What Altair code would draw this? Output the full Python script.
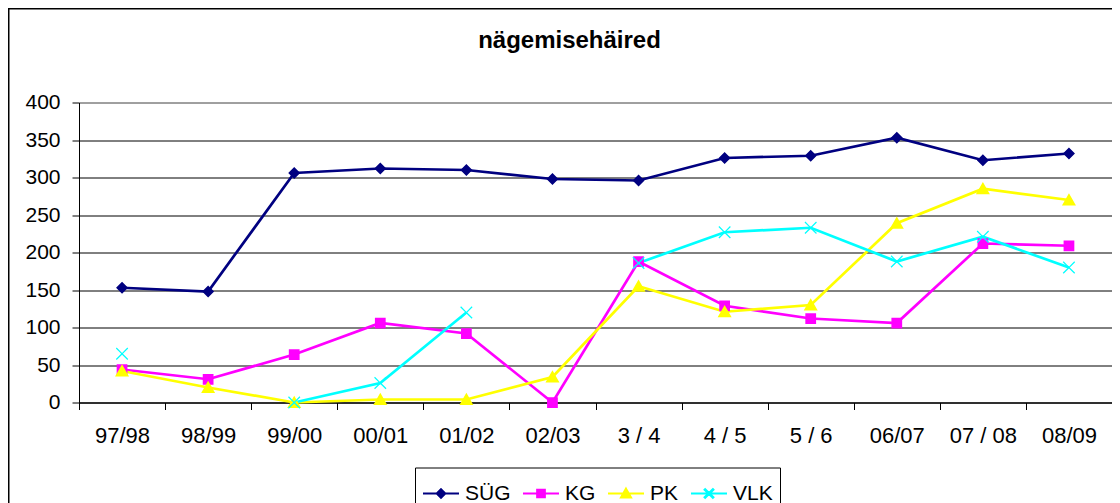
import altair as alt
import pandas as pd

# ---- data ----
categories = ["97/98", "98/99", "99/00", "00/01", "01/02", "02/03",
              "3 / 4", "4 / 5", "5 / 6", "06/07", "07 / 08", "08/09"]
series_names = ["SÜG", "KG", "PK", "VLK"]
sug = [153, 148, 306, 312, 310, 298, 296, 326, 329, 353, 323, 332]
kg = [44, 31, 64, 106, 92, 0, 188, 129, 112, 106, 212, 209]
pk = [42, 20, 0, 4, 4, 34, 155, 121, 130, 239, 285, 270]
vlk = [65, None, 0, 26, 120, None, 186, 227, 233, 188, 221, 180]
y_ticks = [0, 50, 100, 150, 200, 250, 300, 350, 400]
colors = ["#000080", "#FF00FF", "#FFFF00", "#00FFFF"]

# marker paths (a horizontal segment for the legend + the marker itself)
shapes = [
    "M-1,0H1M0,-0.24L0.24,0L0,0.24L-0.24,0Z",
    "M-1,0H1M-0.215,-0.215H0.215V0.215H-0.215Z",
    "M-1,0H1M0,-0.27L0.28,0.22L-0.28,0.22Z",
    "M-1,0H1M0.2125,-0.2475L0.2475,-0.2125L0.035,0L0.2475,0.2125L0.2125,0.2475L0,0.035"
    "L-0.2125,0.2475L-0.2475,0.2125L-0.035,0L-0.2475,-0.2125L-0.2125,-0.2475L0,-0.035Z",
]

values = [sug, kg, pk, vlk]
rows = []
for name, vals in zip(series_names, values):
    for cat, v in zip(categories, vals):
        rows.append({"period": cat, "series": name, "value": v})
df = pd.DataFrame(rows)

FONT = "Liberation Sans"

leg = alt.Legend(
    title=None, orient="none", legendX=336, legendY=365, direction="horizontal",
    columns=4, strokeColor="black", fillColor="white", padding=7,
    symbolSize=1296, symbolStrokeWidth=2, symbolOffset=0,
    symbolStrokeColor={"expr": "scale('color', datum.value)"},
    symbolFillColor={"expr": "scale('color', datum.value)"},
    labelFont=FONT, labelFontSize=21, labelColor="black", labelOffset=5,
    columnPadding=8,
)

x_enc = alt.X("period:N", sort=categories, title=None,
              scale=alt.Scale(domain=categories, paddingInner=0, paddingOuter=0),
              axis=alt.Axis(labelAngle=0, labelFont=FONT, labelFontSize=22,
                            labelColor="black", labelPadding=16, tickSize=7,
                            tickColor="black", domainColor="black", tickBand="extent",
                            grid=False))
y_enc = alt.Y("value:Q", title=None,
              scale=alt.Scale(domain=[0, 400], nice=False, zero=True),
              axis=alt.Axis(values=y_ticks, labelFont=FONT, labelFontSize=21,
                            labelColor="black", labelPadding=12, tickSize=7,
                            tickColor="black", domainColor="black", grid=True,
                            gridColor=alt.condition(alt.datum.value == 400,
                                                    alt.value("#808080"),
                                                    alt.value("#000000")),
                            gridWidth=1))
color_enc = alt.Color("series:N", scale=alt.Scale(domain=series_names, range=colors),
                      legend=leg)

frame = alt.Chart(alt.Data(values=[{"f": 1}])).mark_rect(
    fillOpacity=0, stroke="black", strokeWidth=1.5
).encode(
    x=alt.value(-70.25), x2=alt.value(1100), y=alt.value(-93.75), y2=alt.value(450)
)

lines = alt.Chart(df).mark_line(strokeWidth=2.7, invalid="break-paths-show-domains").encode(
    x=x_enc, y=y_enc, color=color_enc,
)

points = alt.Chart(df).mark_point(filled=True, size=2500, opacity=1).encode(
    x=x_enc, y=y_enc, color=color_enc,
    shape=alt.Shape("series:N", scale=alt.Scale(domain=series_names, range=shapes),
                    legend=leg),
).transform_filter("isValid(datum.value)")

chart = alt.layer(frame, lines, points).properties(
    width=1033, height=300,
    autosize=alt.AutoSizeParams(type="none"),
    padding={"left": 71, "top": 94.5, "right": 0, "bottom": 100},
    title=alt.TitleParams(text="nägemisehäired", font=FONT, fontSize=24,
                          fontWeight="bold", color="black", anchor="middle",
                          dx=-26, dy=64, baseline="alphabetic", offset=0),
    background="white",
).configure_view(stroke="#808080", strokeWidth=1)

chart.save("out.html", embed_options={"renderer": "svg", "actions": False})
